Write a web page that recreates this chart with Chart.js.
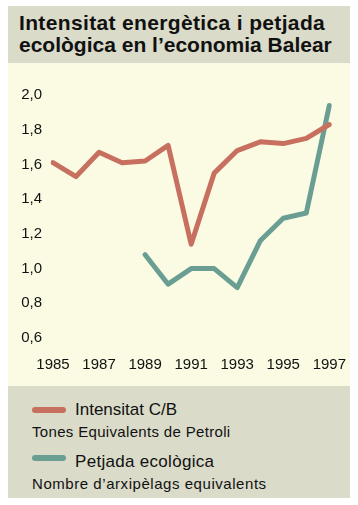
<!DOCTYPE html>
<html>
<head>
<meta charset="utf-8">
<script src="https://cdn.jsdelivr.net/npm/chart.js@4"></script>
<style>
  body { margin: 0; background: #ffffff; width: 358px; height: 505px; position: relative; overflow: hidden; font-family: "Liberation Sans", Arial, sans-serif; }
  .panel { position: absolute; left: 8px; width: 342px; }
  #top { top: 6px; height: 57px; background: #dadbc9; }
  #plot { top: 63px; height: 323px; background: #fbfbe4; }
  #bottom { top: 386px; height: 112px; background: #dadbc9; }
  #chart { position: absolute; left: 8px; top: 63px; }
  .title { position: absolute; left: 19px; font-weight: bold; font-size: 21px; line-height: 22px; color: #111; white-space: nowrap; }
  .txt { position: absolute; white-space: nowrap; color: #111; }
  .sw { position: absolute; left: 32px; width: 34px; height: 6px; border-radius: 3px; }
</style>
</head>
<body>
<div class="panel" id="top"></div>
<div class="panel" id="plot"></div>
<div class="panel" id="bottom"></div>
<canvas id="chart" width="356" height="323"></canvas>

<div class="title" style="top:12px;letter-spacing:0.35px">Intensitat energètica i petjada</div>
<div class="title" style="top:34px">ecològica en l’economia Balear</div>

<div class="sw" style="top:407px;background:#c87060"></div>
<div class="txt" style="left:75px;top:400px;font-size:17px;line-height:20px">Intensitat C/B</div>
<div class="txt" style="left:32px;top:423px;font-size:15px;line-height:18px;letter-spacing:0.33px">Tones Equivalents de Petroli</div>
<div class="sw" style="top:455px;background:#6b9e92"></div>
<div class="txt" style="left:75px;top:452px;font-size:17px;line-height:20px;letter-spacing:0.3px">Petjada ecològica</div>
<div class="txt" style="left:32px;top:475px;font-size:15px;line-height:18px;letter-spacing:0.55px">Nombre d’arxipèlags equivalents</div>

<script>
// chart values
const years = ["1985", "1986", "1987", "1988", "1989", "1990", "1991", "1992", "1993", "1994", "1995", "1996", "1997"];
const intensitat = [1.61, 1.53, 1.67, 1.61, 1.62, 1.71, 1.14, 1.55, 1.68, 1.73, 1.72, 1.75, 1.83];
const petjada = [null, null, null, null, 1.08, 0.91, 1.0, 1.0, 0.89, 1.16, 1.29, 1.32, 1.94];
const yTicks = [0.6, 0.8, 1.0, 1.2, 1.4, 1.6, 1.8, 2.0];

const lineStyle = {
    borderWidth: 5,
    pointRadius: 0,
    tension: 0,
    borderCapStyle: "round",
    borderJoinStyle: "round",
    fill: false
};

new Chart(document.getElementById("chart"), {
    type: "line",
    data: {
        labels: years,
        datasets: [
            { label: "Intensitat C/B", data: intensitat, borderColor: "#c87060", ...lineStyle },
            { label: "Petjada ecològica", data: petjada, borderColor: "#6b9e92", ...lineStyle }
        ]
    },
    options: {
        responsive: false,
        animation: false,
        layout: { padding: { top: 32, right: 0, left: 0, bottom: 0 } },
        plugins: {
            legend: { display: false },
            tooltip: { enabled: false }
        },
        scales: {
            x: {
                offset: false,
                afterFit: function (s) { s.height = 48; },
                grid: { display: false, drawTicks: false },
                border: { display: false },
                ticks: {
                    autoSkip: false,
                    maxRotation: 0,
                    padding: 18,
                    color: "#111",
                    font: { family: "Liberation Sans", size: 15 },
                    callback: function (v, i) {
                        const y = years[i];
                        return Number(y) % 2 === 1 ? y : "";
                    }
                }
            },
            y: {
                min: 0.6,
                max: 2.0,
                afterFit: function (s) { s.width = 45; },
                afterBuildTicks: function (s) { s.ticks = yTicks.map(v => ({ value: v })); },
                grid: { display: false, drawTicks: false },
                border: { display: false },
                ticks: {
                    padding: 11,
                    color: "#111",
                    font: { family: "Liberation Sans", size: 15 },
                    callback: function (v) { return v.toFixed(1).replace(".", ","); }
                }
            }
        }
    }
});
</script>
</body>
</html>
